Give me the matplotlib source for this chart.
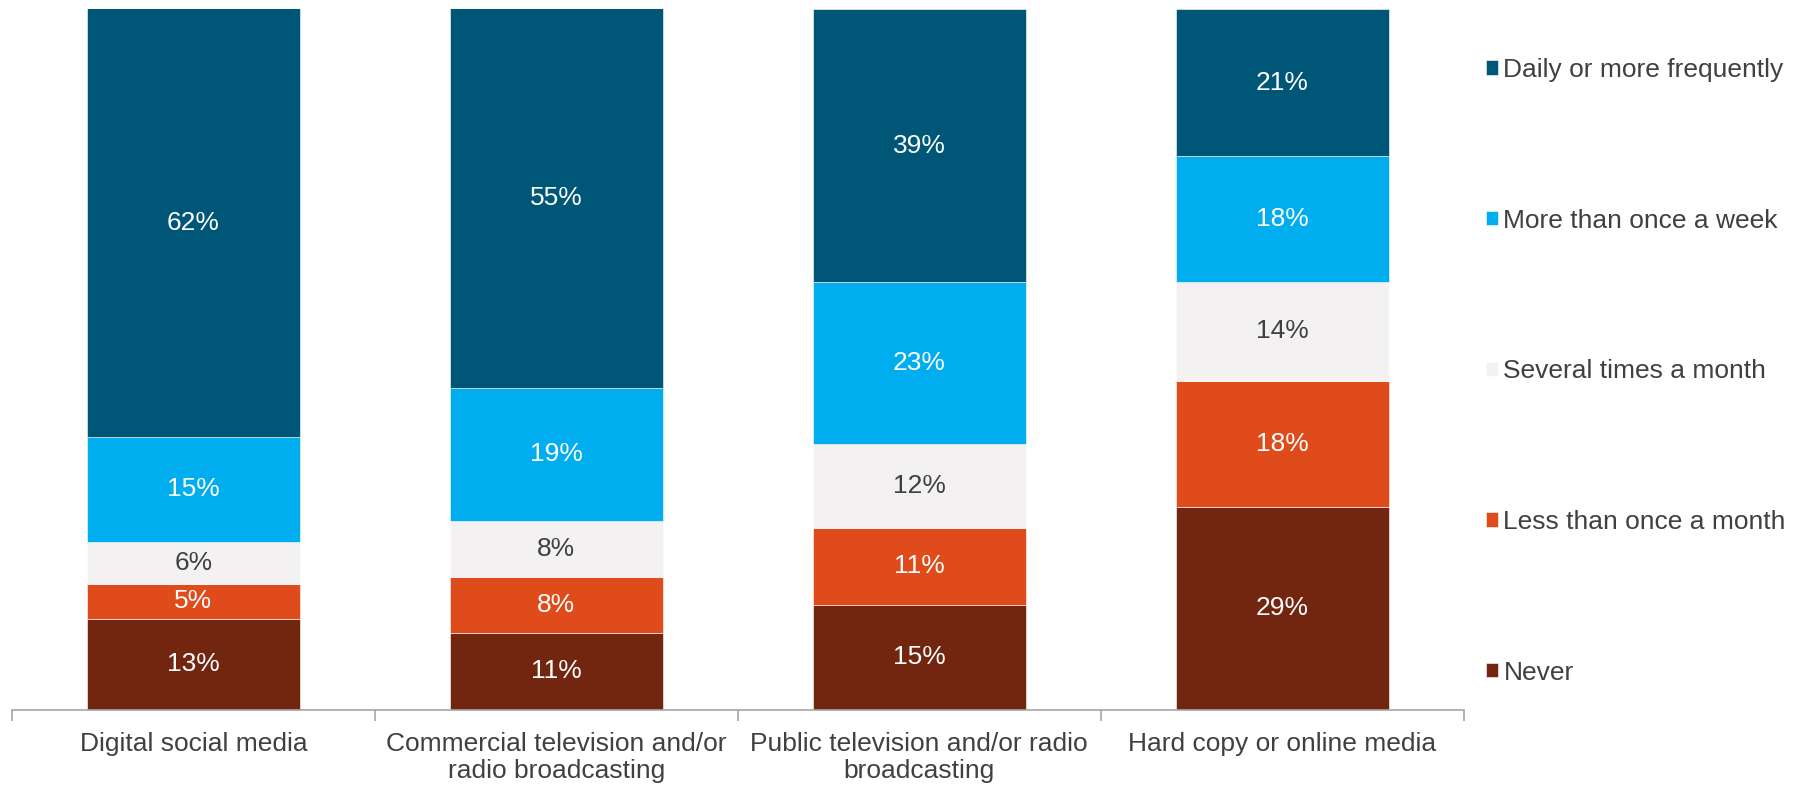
import matplotlib.pyplot as plt
import numpy as np

plt.rcParams['font.family'] = ['Liberation Sans', 'DejaVu Sans']

categories = ["Digital social media",
              "Commercial television and/or\nradio broadcasting",
              "Public television and/or radio\nbroadcasting",
              "Hard copy or online media"]

# stacked from the bottom up
series = ["Never", "Less than once a month", "Several times a month",
          "More than once a week", "Daily or more frequently"]
never = [13, 11, 15, 29]
less_monthly = [5, 8, 11, 18]
several_monthly = [6, 8, 12, 14]
weekly = [15, 19, 23, 18]
daily = [62, 55, 39, 21]

colors = ["#72250F", "#E04B1B", "#F3F1F2", "#00ADEF", "#005677"]
text_colors = ["white", "white", "#404040", "white", "white"]

fig = plt.figure(figsize=(18.09, 7.88), dpi=100)
ax = fig.add_axes([0.0066, 0.099, 0.8025, 0.8896])

x = np.arange(len(categories))
bottom = np.zeros(len(categories))
handles = []
for name, vals, col, tcol in zip(series,
                                 [never, less_monthly, several_monthly, weekly, daily],
                                 colors, text_colors):
    vals = np.array(vals, dtype=float)
    bars = ax.bar(x, vals, 0.587, bottom=bottom, color=col, label=name,
                  edgecolor="white", linewidth=0.4)
    handles.append(bars)
    for xi, b, v in zip(x, bottom, vals):
        top = min(b + v, 100)
        ax.text(xi, (b + top) / 2, f"{int(v)}%", ha="center", va="center",
                fontsize=19, color=tcol)
    bottom += vals

ax.set_xlim(-0.5, 3.5)
ax.set_ylim(0, 100)
ax.set_yticks([])
for s in ["top", "right", "left"]:
    ax.spines[s].set_visible(False)
ax.spines["bottom"].set_color("#A6A6A6")
ax.spines["bottom"].set_linewidth(1.2)

ax.set_xticks(x)
ax.set_xticklabels(categories, fontsize=19, color="#404040", linespacing=1.15)
ax.tick_params(axis="x", which="major", length=0, pad=16)
ax.set_xticks(np.arange(-0.5, 4, 1), minor=True)
ax.tick_params(axis="x", which="minor", length=8, color="#A6A6A6", width=1.2)

leg = fig.legend(handles[::-1], series[::-1], loc="upper left",
                 bbox_to_anchor=(0.8158, 0.94), frameon=False, fontsize=19,
                 handlelength=0.45, handleheight=0.45, handletextpad=0.2,
                 labelspacing=4.8, borderaxespad=0)
for t in leg.get_texts():
    t.set_color("#404040")

fig.savefig("out.png", dpi=100)
